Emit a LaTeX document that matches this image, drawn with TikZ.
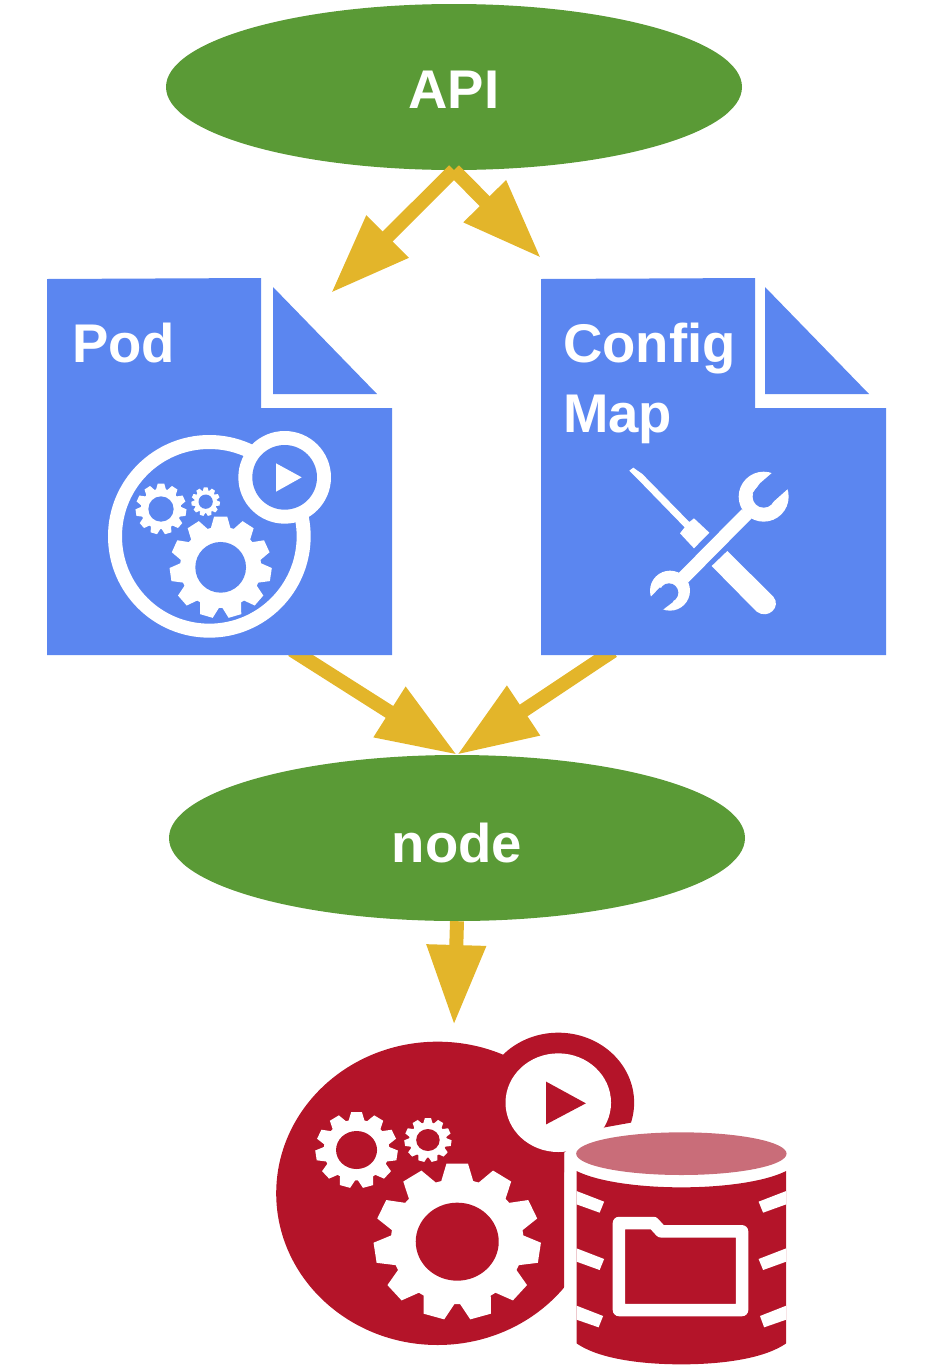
\documentclass[tikz,border=0pt]{standalone}
\usepackage{fontspec}
\setmainfont{Liberation Sans}
\usetikzlibrary{shapes.geometric, arrows.meta, positioning}
\definecolor{nodegreen}{RGB}{90, 154, 54}
\definecolor{docblue}{RGB}{91, 134, 240}
\definecolor{arrowyellow}{RGB}{227, 181, 42}
\definecolor{runred}{RGB}{180, 20, 41}
\definecolor{lidred}{RGB}{201, 109, 121}
\tikzstyle{cluster} = [
    ellipse,
    minimum width=576pt,
    minimum height=166pt,
    inner sep=0pt,
    fill=nodegreen,
    text=white,
    font=\fontsize{54.5}{60}\selectfont\bfseries
]
\tikzstyle{docbox} = [
    rectangle,
    minimum width=345pt,
    minimum height=377pt,
    inner sep=0pt
]
\tikzstyle{doclabel} = [
    anchor=base west,
    inner sep=0pt,
    text=white,
    font=\fontsize{54.5}{60}\selectfont\bfseries
]
\tikzstyle{arrow} = [
    line width=14pt,
    -{Triangle[length=80pt,width=56pt]},
    color=arrowyellow
]
\tikzset{
    pics/gear/.style 2 args={code={
        \fill[#1] (0,0) circle (0.8);
        \foreach \a in {0,...,10}
            \fill[#1, rotate=90+\a*360/11] (0.75,-0.2) -- (1,-0.13) -- (1,0.13) -- (0.75,0.2) -- cycle;
        \fill[#2] (0,0) circle (0.5);
    }}
}
\begin{document}
\begin{tikzpicture}[x=1pt, y=-1pt]
    \useasboundingbox (0,0) rectangle (930,1366);

    \node[cluster] (api) at (454,87) {\raisebox{-21pt}[0pt][0pt]{API}};
    \node[cluster] (worker) at (457,838) {\raisebox{-24pt}[0pt][0pt]{node}};
    \node[docbox] (pod) at (219.5,466.5) {};
    \node[docbox] (cfg) at (713.5,466.5) {};

    \coordinate (podtip) at (331,293);
    \coordinate (cfgtip) at (541,258);
    \coordinate (podout) at (292,650);
    \coordinate (cfgout) at (613,651);
    \coordinate (runtip) at (454,1025);

    % connectors first, the documents lie over their tails
    \draw[arrow] (api.south) -- (podtip);
    \draw[arrow] (api.south) -- (cfgtip);
    \draw[arrow] (podout) -- (worker.north);
    \draw[arrow] (cfgout) -- (worker.north);
    \draw[arrow] (worker.south) -- (runtip);

    % documents
    \fill[docblue] (47,279) -- (261,278) -- (261,408) -- (392,408) -- (392,655) -- (47,655) -- cycle;
    \fill[docblue] (273,287) -- (377,394) -- (273,394) -- cycle;
    \fill[docblue] (541,279) -- (755,278) -- (755,408) -- (886,408) -- (886,655) -- (541,655) -- cycle;
    \fill[docblue] (765,287) -- (869,394) -- (765,394) -- cycle;

    \node[doclabel] (podlabel) at (72,362) {Pod};
    \node[doclabel] (cfglabel) at (563,362) {Config};
    \node[doclabel] (maplabel) at (563,432) {Map};

    % pod icon
    \begin{scope}[shift={(90,420)}, scale=1/3]
        \draw[white, line width=14pt] (358,349) circle (283);
        \fill[white] (584,172) circle (139);
        \fill[docblue] (584,172) circle (97);
        \fill[white] (558,130) -- (635,172) -- (558,215) -- cycle;
        \pic[scale=50.7] at (392,442) {gear={white}{docblue}};
        \pic[scale=25.3] at (213,267) {gear={white}{docblue}};
        \pic[scale=14.3] at (347,245) {gear={white}{docblue}};
    \end{scope}

    % tools icon
    \begin{scope}[shift={(610,450)}, scale=1/3]
        \fill[white] (58,62) -- (70,53) -- (97,72) -- (238,216) -- (252,205) -- (298,248) -- (252,295) -- (210,250) -- (224,232) -- (84,88) -- cycle;
        \fill[white] (352,303) -- (490,440) .. controls (515,470) and (475,510) .. (440,485) -- (305,348) -- cycle;
        \fill[white] (395,178) -- (425,205) -- (235,397) -- (205,370) -- cycle;
        \fill[white] (461,140) circle (75);
        \fill[white] (180,422) circle (60);
        \fill[docblue] (461,140) circle (33);
        \fill[docblue] (428,130) -- (450,100) -- (487,68) -- (545,50) -- (535,115) -- (490,155) -- cycle;
        \fill[docblue] (177,428) circle (28);
        \fill[docblue] (150,412) -- (123,440) -- (105,500) -- (160,478) -- (190,455) -- cycle;
    \end{scope}

    % runtime icon
    \begin{scope}[shift={(260,1020)}, xscale=1/2.9, yscale=1/3]
        \begin{scope}
            \clip (0,0) -- (1200,0) -- (1200,302) -- (1075,308) -- (1000,322) -- (960,340) -- (882,397) -- (882,1100) -- (0,1100) -- cycle;
            \fill[runred] (515,520) ellipse (468 and 455);
            \fill[runred] (865,248) ellipse (220 and 210);
        \end{scope}
        \fill[white] (865,248) ellipse (153 and 148);
        \fill[runred] (830,185) -- (945,250) -- (830,313) -- cycle;
        \pic[xscale=83, yscale=78] at (572,665) {gear={white}{runred}};
        \pic[xscale=41, yscale=38] at (280,390) {gear={white}{runred}};
        \pic[xscale=23.5, yscale=22] at (487,360) {gear={white}{runred}};

        \fill[lidred] (1222,401) ellipse (305 and 64);
        \fill[runred] (918,453) .. controls (980,485) and (1100,502) .. (1222,502) .. controls (1344,502) and (1464,485) .. (1526,453) -- (1526,970) .. controls (1464,1015) and (1344,1033) .. (1222,1033) .. controls (1100,1033) and (980,1015) .. (918,970) -- cycle;
        \foreach \y in {0,172}
            \fill[white] (918,513+\y) -- (998,545+\y) -- (985,578+\y) -- (918,553+\y) -- cycle
                         (1526,513+\y) -- (1446,545+\y) -- (1459,578+\y) -- (1526,553+\y) -- cycle;
        \fill[white] (918,857) -- (995,888) -- (982,922) -- (918,899) -- cycle
                     (1526,857) -- (1450,888) -- (1462,922) -- (1526,899) -- cycle;
        \draw[white, line width=12.5pt, line join=round] (1041,609) -- (1141,609) -- (1163,634) -- (1398,634) -- (1398,870) -- (1041,870) -- cycle;
    \end{scope}
\end{tikzpicture}
\end{document}
